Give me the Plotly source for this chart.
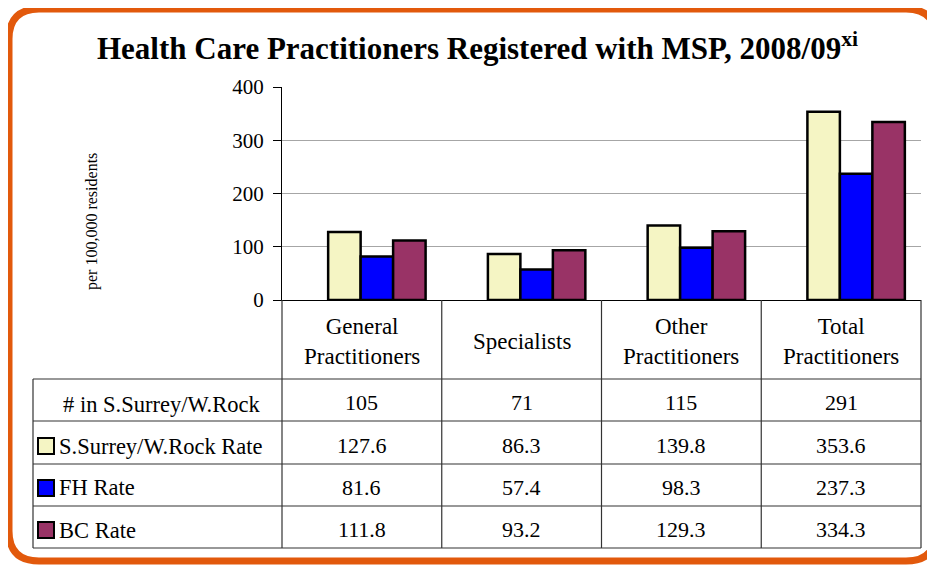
import plotly.graph_objects as go

# Datos del grafico
categorias = ['General<br>Practitioners', 'Specialists', 'Other<br>Practitioners', 'Total<br>Practitioners']
num_surrey = [105, 71, 115, 291]
rate_surrey = [127.6, 86.3, 139.8, 353.6]
rate_fh = [81.6, 57.4, 98.3, 237.3]
rate_bc = [111.8, 93.2, 129.3, 334.3]
series = ['S.Surrey/W.Rock Rate', 'FH Rate', 'BC Rate']
colores = ['#F5F5C4', '#0000FF', '#993366']

FONT = 'Liberation Serif'

# La pagina tiene 8px de margen (body), asi que todo va en pixeles de pagina
OFF = 8
FW, FH = 935 - OFF, 565 - OFF
L, R, T, B = 282, 921, 87, 300
W, H = R - L, B - T
COLW = W / len(categorias)


def px(x):
    return (x - L) / W


def py(y):
    return (B - y) / H


def colx(i):
    # centro de la columna i en coordenadas paper
    return (i + 0.5) / len(categorias)


fig = go.Figure()
xs = list(range(len(categorias)))
for nombre, vals, col in zip(series, [rate_surrey, rate_fh, rate_bc], colores):
    fig.add_trace(go.Bar(x=xs, y=vals, name=nombre,
                         marker=dict(color=col, line=dict(color='black', width=2.5))))

shapes = []
anns = []
linea = dict(color='#333333', width=1.2)

# Lineas de la tabla
for y in [379, 421, 464, 506, 548]:
    shapes.append(dict(type='line', xref='paper', yref='paper',
                       x0=px(33), x1=1, y0=py(y), y1=py(y), line=linea))
for i in range(len(categorias) + 1):
    shapes.append(dict(type='line', xref='paper', yref='paper',
                       x0=i / len(categorias), x1=i / len(categorias), y0=0, y1=py(548), line=linea))
shapes.append(dict(type='line', xref='paper', yref='paper',
                   x0=px(33), x1=px(33), y0=py(379), y1=py(548), line=linea))

# Encabezados de columnas
for i, c in enumerate(categorias):
    anns.append(dict(x=colx(i), y=py(341), xref='paper', yref='paper', text=c, showarrow=False,
                     xanchor='center', yanchor='middle',
                     font=dict(family=FONT, size=23, color='black'), align='center'))

# Filas de la tabla
centros = [400, 443, 485, 527]
filas = [num_surrey, rate_surrey, rate_fh, rate_bc]
for fila, yc in zip(filas, centros):
    for i, v in enumerate(fila):
        anns.append(dict(x=colx(i), y=py(yc + 2), xref='paper', yref='paper',
                         xanchor='center', yanchor='middle',
                         text=str(v), showarrow=False,
                         font=dict(family=FONT, size=22, color='black')))

anns.append(dict(x=px(161), y=py(404), xref='paper', yref='paper',
                 xanchor='center', yanchor='middle',
                 text='# in S.Surrey/W.Rock', showarrow=False,
                 font=dict(family=FONT, size=22.5, color='black')))
for nombre, col, yc in zip(series, colores, centros[1:]):
    shapes.append(dict(type='rect', xref='paper', yref='paper',
                       x0=px(38), x1=px(54), y0=py(yc - 5), y1=py(yc + 11),
                       fillcolor=col, line=dict(color='black', width=2)))
    anns.append(dict(x=px(57), y=py(yc + 3), xref='paper', yref='paper',
                     xanchor='left', yanchor='middle',
                     text=nombre, showarrow=False,
                     font=dict(family=FONT, size=22.5, color='black')))

# Titulo
anns.append(dict(x=px(477), y=py(47), xref='paper', yref='paper',
                 xanchor='center', yanchor='middle',
                 text='<b>Health Care Practitioners Registered with MSP, 2008/09<sup>xi</sup></b>',
                 showarrow=False, font=dict(family=FONT, size=31, color='black')))

# Titulo eje y
anns.append(dict(x=px(92), y=py(222), xref='paper', yref='paper', textangle=-90,
                 xanchor='center', yanchor='middle',
                 text='per 100,000 residents', showarrow=False,
                 font=dict(family=FONT, size=16, color='black')))

# Borde naranja redondeado
bl, bt, br, bb, r0 = 9, 9, 936, 561, 30


def P(x, y):
    return '%.5f,%.5f' % (px(x), py(y))


ruta = ('M ' + P(bl + r0, bt) + ' L ' + P(br - r0, bt) + ' Q ' + P(br, bt) + ' ' + P(br, bt + r0) +
        ' L ' + P(br, bb - r0) + ' Q ' + P(br, bb) + ' ' + P(br - r0, bb) +
        ' L ' + P(bl + r0, bb) + ' Q ' + P(bl, bb) + ' ' + P(bl, bb - r0) +
        ' L ' + P(bl, bt + r0) + ' Q ' + P(bl, bt) + ' ' + P(bl + r0, bt) + ' Z')
shapes.append(dict(type='path', xref='paper', yref='paper', path=ruta,
                   line=dict(color='#E2590C', width=7)))

# los grupos de barras estan corridos ~15px a la derecha del centro de columna
d = 15 / COLW

fig.update_layout(
    width=FW, height=FH,
    margin=dict(l=L - OFF, r=FW - (R - OFF), t=T - OFF, b=FH - (B - OFF)),
    paper_bgcolor='white', plot_bgcolor='white',
    barmode='group', bargap=0.39, bargroupgap=0,
    showlegend=False,
    shapes=shapes, annotations=anns,
    xaxis=dict(range=[-0.5 - d, 3.5 - d], showticklabels=False, showgrid=False, zeroline=False,
               showline=True, linecolor='black', linewidth=1.2, ticks=''),
    yaxis=dict(range=[0, 400], dtick=100, showgrid=True, gridcolor='#A6A6A6', gridwidth=1,
               zeroline=False, showline=True, linecolor='black', linewidth=1.2,
               ticks='outside', ticklen=8, tickcolor='black', ticklabelstandoff=5,
               tickfont=dict(family=FONT, size=21, color='black')),
)

fig.write_html('out.html')
